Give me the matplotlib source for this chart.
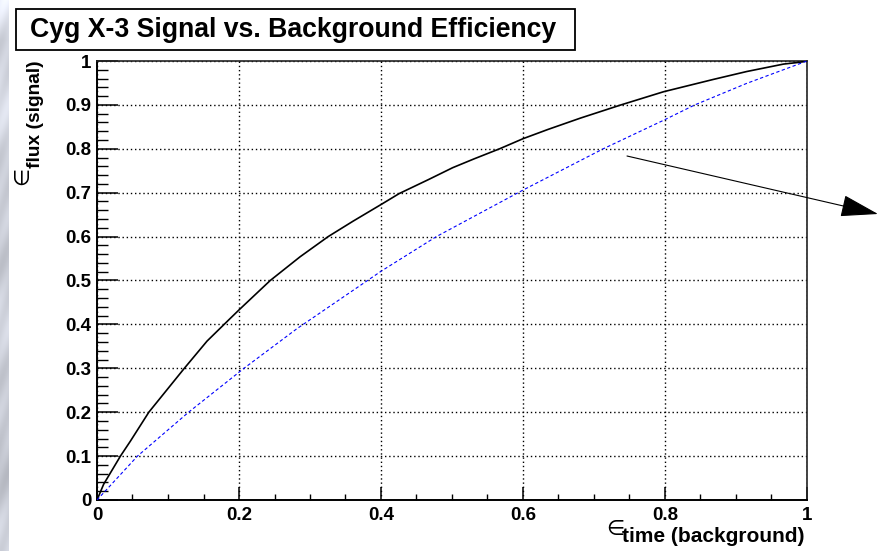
import numpy as np
import matplotlib
matplotlib.use("Agg")
import matplotlib.pyplot as plt
from matplotlib.patches import Rectangle, FancyArrowPatch
from matplotlib.ticker import MultipleLocator, FuncFormatter

# ROC-style efficiency curves: background (time cut) efficiency vs signal (flux) efficiency
cut_bkg_eff = [0.0, 0.0094, 0.033, 0.047, 0.073, 0.099, 0.123, 0.155, 0.186, 0.200,
               0.244, 0.286, 0.3256, 0.3605, 0.400, 0.4256, 0.467, 0.501, 0.531,
               0.567, 0.600, 0.635, 0.681, 0.738, 0.798, 0.868, 0.915, 0.967,
               0.989, 1.000]
cut_sig_eff = [0.0, 0.036, 0.100, 0.134, 0.200, 0.252, 0.300, 0.362, 0.411, 0.433,
               0.500, 0.554, 0.600, 0.635, 0.673, 0.698, 0.730, 0.757, 0.777,
               0.800, 0.823, 0.844, 0.870, 0.900, 0.930, 0.958, 0.976, 0.993,
               0.997, 1.000]

ref_bkg_eff = [0.0, 0.057, 0.129, 0.207, 0.2814, 0.400, 0.478, 0.600,
               0.713, 0.798, 0.842, 0.915, 1.000]
ref_sig_eff = [0.0, 0.100, 0.200, 0.300, 0.390, 0.521, 0.600, 0.706,
               0.800, 0.865, 0.900, 0.949, 1.000]

title_text = "Cyg X-3 Signal vs. Background Efficiency"
xlabel_sub = "time (background)"
ylabel_sub = "flux (signal)"

W, H, DPI = 878, 551, 100
fig = plt.figure(figsize=(W / DPI, H / DPI), dpi=DPI)
fig.patch.set_facecolor("white")

def fx(px):
    return px / W

def fy(py):
    return 1 - py / H

# soft clouded strip on the left border
strip = fig.add_axes([0, 0, fx(9), 1])
yy, xx = np.mgrid[0:551, 0:9]
base = (0.83 + 0.05 * np.sin(yy / 23.0) * np.cos(yy / 61.0 + 1.3)
        + 0.03 * np.sin(yy / 9.0 + xx / 3.0) + 0.02 * np.cos(yy / 140.0))
base = np.where(yy < 40, base + (40 - yy) / 40 * 0.12, base)
base = np.clip(base, 0, 1)
rgb = np.dstack([base * 0.97, base * 0.985, np.clip(base * 1.03, 0, 1)])
strip.imshow(rgb, aspect="auto", interpolation="bilinear")
strip.axis("off")

fs_tick = 13.5
font_main = "Liberation Sans"

x0, x1, y1, y0 = 97, 807, 61, 500
ax = fig.add_axes([fx(x0), fy(y0), fx(x1) - fx(x0), fy(y1) - fy(y0)])
ax.set_xlim(0, 1)
ax.set_ylim(0, 1)

ax.plot(cut_bkg_eff, cut_sig_eff, color="black", lw=1.2, zorder=3)
ax.plot(ref_bkg_eff, ref_sig_eff, color="#0000ff", lw=0.8, dashes=(3, 2.2), zorder=3)

ax.xaxis.set_major_locator(MultipleLocator(0.2))
ax.xaxis.set_minor_locator(MultipleLocator(0.05))
ax.yaxis.set_major_locator(MultipleLocator(0.1))
ax.yaxis.set_minor_locator(MultipleLocator(0.02))
fmt = FuncFormatter(lambda v, p: "%g" % round(v, 3))
ax.xaxis.set_major_formatter(fmt)
ax.yaxis.set_major_formatter(fmt)

ax.grid(True, which="major", color="black", lw=1.0, linestyle=(0, (1, 2)))
ax.tick_params(axis="both", which="both", direction="in", top=False, right=False,
               color="black")
ax.tick_params(axis="x", which="major", length=9.4, width=1.1, pad=5)
ax.tick_params(axis="x", which="minor", length=4.3, width=1.0)
ax.tick_params(axis="y", which="major", length=15, width=1.1, pad=4)
ax.tick_params(axis="y", which="minor", length=8, width=1.0)
for lab in ax.get_xticklabels() + ax.get_yticklabels():
    lab.set_fontfamily(font_main)
    lab.set_fontweight("bold")
    lab.set_fontsize(fs_tick)
for side in ["left", "bottom"]:
    ax.spines[side].set_linewidth(1.4)
    ax.spines[side].set_color("black")
for side in ["top", "right"]:
    ax.spines[side].set_linewidth(1.2)
    ax.spines[side].set_color("#222222")

# title box
fig.add_artist(Rectangle((fx(16), fy(50)), fx(575) - fx(16), fy(9) - fy(50),
                         transform=fig.transFigure, facecolor="white",
                         edgecolor="black", lw=1.3))
t = fig.text(fx(30), fy(30), title_text, fontfamily=font_main, fontweight="bold",
             fontsize=17, ha="left", va="center")
fig.canvas.draw()
w = t.get_window_extent().width
t.set_fontsize(17 * 527 / w)

# axis labels: epsilon sign with bold subscript
fig.text(fx(615), fy(529), "\u2208", fontfamily="DejaVu Sans", fontsize=15,
         ha="center", va="center")
fig.text(fx(805), fy(537), xlabel_sub, fontfamily=font_main, fontweight="bold",
         fontsize=15, ha="right", va="center")
fig.text(fx(22), fy(176), "\u2208", fontfamily="DejaVu Sans", fontsize=15,
         ha="center", va="center", rotation=90)
fig.text(fx(36), fy(60), ylabel_sub, fontfamily=font_main, fontweight="bold",
         fontsize=13.8, ha="center", va="top", rotation=90)

# annotation arrow pointing off to the right
arrow = FancyArrowPatch((fx(627), fy(156)), (fx(878), fy(214)),
                        transform=fig.transFigure,
                        arrowstyle="-|>,head_length=2.4,head_width=0.7",
                        mutation_scale=10, color="black", lw=0.8,
                        shrinkA=0, shrinkB=0)
fig.add_artist(arrow)

fig.savefig("out.png", dpi=DPI)
